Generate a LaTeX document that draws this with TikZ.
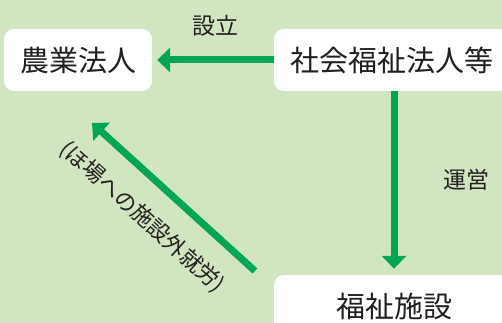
\documentclass[tikz,border=0pt]{standalone}
\usepackage{fontspec}
\setmainfont{Noto Sans CJK JP}
\usetikzlibrary{arrows.meta}
\definecolor{bgc}{RGB}{209,230,192}
\definecolor{arrc}{RGB}{0,166,81}
\definecolor{txtc}{RGB}{35,31,32}
\tikzset{
  box/.style={fill=white, rounded corners=10pt, inner sep=0pt, text=txtc,
    font=\fontsize{29pt}{31pt}\selectfont, minimum height=62pt},
  lbl/.style={text=txtc, font=\fontsize{23pt}{25pt}\selectfont, inner sep=0pt},
  arr/.style={draw=arrc, line width=7pt, -{Triangle[length=13pt,width=24pt]}},
}
\begin{document}
\begin{tikzpicture}[x=1pt,y=-1pt]
\fill[bgc] (0,0) rectangle (502,323);
\useasboundingbox (0,0) rectangle (502,323);
\begin{scope}
\clip (0,0) rectangle (502,323);
\node[box, minimum width=148pt] (farm) at (78,60) {農業法人};
\node[box, minimum width=236pt] (soc) at (392,60) {社会福祉法人等};
\node[box, minimum width=240pt] (fac) at (394,306) {福祉施設};
\node[lbl] (setsu) at (215,25.5) {設立};
\node[lbl] (unei) at (466,180) {運営};
\node[text=txtc, font=\fontsize{22pt}{24pt}\selectfont, inner sep=0pt, rotate=-42] (work) at (142,217) {(ほ場への施設外就労)};
\coordinate (dtail) at (255,271);
\coordinate (dtip) at (92,123);
\draw[arr, shorten >=5pt] (soc.west) -- (farm.east);
\draw[arr, shorten >=6pt] (soc.south -| fac.north) -- (fac.north);
\draw[arr] (dtail) -- (dtip);
\end{scope}
\end{tikzpicture}
\end{document}
